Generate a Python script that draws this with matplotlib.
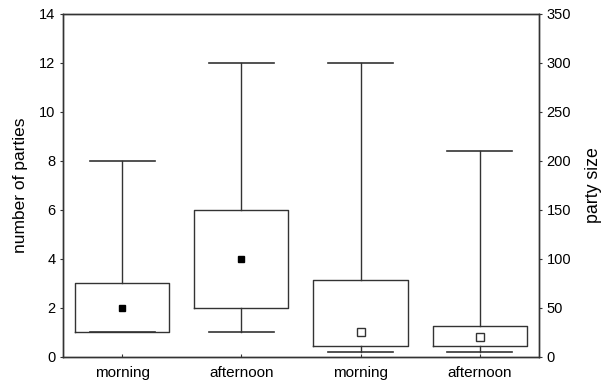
import matplotlib.pyplot as plt

plt.rcParams['font.family'] = ['Liberation Sans', 'DejaVu Sans']

# group labels along the x axis
categories = ["morning", "afternoon", "morning", "afternoon"]

# number of parties (left axis)
parties_low = [1, 1]
parties_q1 = [1, 2]
parties_q3 = [3, 6]
parties_high = [8, 12]
parties_mean = [2, 4]

# party size (right axis)
size_low = [5, 5]
size_q1 = [11, 11]
size_q3 = [78, 31]
size_high = [300, 210]
size_mean = [25, 20]


def make_stats(low, q1, q3, high, mean):
    stats = []
    for lo, a, b, hi, m in zip(low, q1, q3, high, mean):
        stats.append(dict(whislo=lo, q1=a, med=m, q3=b, whishi=hi, mean=m, fliers=[]))
    return stats


line_col = "#333333"
box_kw = dict(
    widths=0.79, capwidths=0.55, showmeans=True, showfliers=False,
    boxprops=dict(color=line_col, linewidth=1),
    whiskerprops=dict(color=line_col, linewidth=1),
    capprops=dict(color=line_col, linewidth=1.2),
    medianprops=dict(linewidth=0),
)

fig = plt.figure(figsize=(6.05, 3.84), dpi=100)
ax = fig.add_axes([0.104, 0.071, 0.787, 0.893])
ax2 = ax.twinx()

ax.bxp(make_stats(parties_low, parties_q1, parties_q3, parties_high, parties_mean),
       positions=[1, 2],
       meanprops=dict(marker="s", markerfacecolor="black", markeredgecolor="black", markersize=5),
       **box_kw)
ax2.bxp(make_stats(size_low, size_q1, size_q3, size_high, size_mean),
        positions=[3, 4],
        meanprops=dict(marker="s", markerfacecolor="white", markeredgecolor=line_col, markersize=6),
        **box_kw)

ax.set_xlim(0.5, 4.5)
ax.set_ylim(0, 14)
ax2.set_ylim(0, 350)
ax.set_yticks(range(0, 15, 2))
ax2.set_yticks(range(0, 351, 50))
ax.set_xticks([1, 2, 3, 4])
ax.set_xticklabels(categories)

ax.set_ylabel("number of parties", fontsize=12.5, labelpad=8)
ax2.set_ylabel("party size", fontsize=12.8, labelpad=10)

for a in (ax, ax2):
    for s in a.spines.values():
        s.set_color(line_col)
        s.set_linewidth(1)
    a.tick_params(labelsize=10.5, length=2, color=line_col)
ax.tick_params(axis="x", direction="in", labelsize=11, pad=7)

fig.savefig("out.png", dpi=100)
